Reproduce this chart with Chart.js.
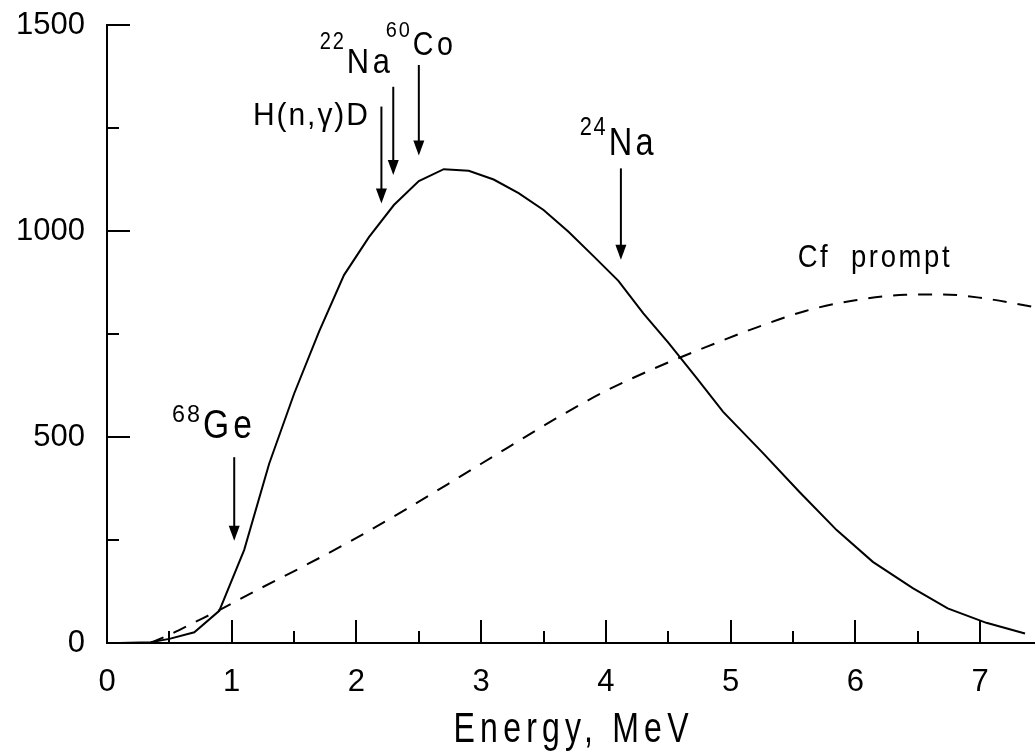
<!DOCTYPE html>
<html>
<head>
<meta charset="utf-8">
<title>Energy spectrum</title>
<script src="https://cdn.jsdelivr.net/npm/chart.js@4.4.1/dist/chart.umd.min.js"></script>
<style>
    body { margin: 0; background: #fff; }
    canvas { display: block; }
</style>
</head>
<body>
<canvas id="myChart" width="1035" height="753"></canvas>
<script>
// solid curve (measured spectrum)
const solidX = [0.1, 0.35, 0.5, 0.7, 0.9, 1.1, 1.3, 1.5, 1.7, 1.9, 2.1, 2.3, 2.5, 2.7, 2.9, 3.1, 3.3, 3.5, 3.7, 3.9, 4.1, 4.3, 4.5, 4.72, 4.94, 5.25, 5.55, 5.85, 6.14, 6.46, 6.74, 7.05, 7.36]
const solidY = [0, 2, 10, 26, 78, 226, 435, 605, 756, 893, 985, 1063, 1121, 1150, 1146, 1125, 1092, 1051, 998, 939, 879, 800, 729, 646, 561, 464, 367, 274, 197, 133, 84, 49, 23]

// dashed curve (Cf prompt)
const cfX = [0.35, 0.5, 0.7, 0.9, 1.2, 1.6, 2.0, 2.4, 2.8, 3.2, 3.6, 4.0, 4.4, 4.8, 5.2, 5.6, 6.0, 6.4, 6.7, 7.0, 7.44]
const cfY = [0, 20, 50, 80, 128, 190, 255, 325, 398, 472, 545, 612, 668, 718, 765, 806, 832, 845, 846, 838, 815]

// tick labels
const xTickLabels = [0, 1, 2, 3, 4, 5, 6, 7]
const yTickLabels = [0, 500, 1000, 1500]

// arrows: energy and the y range (from -> tip)
const arrowX    = [1.02, 2.20, 2.295, 2.50, 4.12]
const arrowFrom = [451, 1302, 1350, 1403, 1152]
const arrowTo   = [248, 1067, 1136, 1183, 930]

// labels: superscript, main text, anchor (left, baseline) in data units
const labelSup  = ['68', '', '22', '60', '24', '']
const labelMain = ['Ge', 'H(n,\u03b3)D', 'Na', 'Co', 'Na', 'Cf  prompt']
const labelX    = [0.769, 1.17, 1.923, 2.452, 4.022, 5.537]
const labelY    = [497.6, 1257, 1384, 1427, 1184, 913]

const FONT = '"Liberation Sans", Arial, sans-serif'

// text styles for the labels above
const labelStyle = [
    { size: 40, width: 49, sp: 5, supSize: 23, supW: 28, rise: 16 },
    { size: 31, width: 115, sp: 2 },
    { size: 35, width: 43, sp: 4, supSize: 24, supW: 24, rise: 24 },
    { size: 34, width: 40, sp: 4, supSize: 22, supW: 24, rise: 18 },
    { size: 38, width: 45, sp: 4, supSize: 25, supW: 26, rise: 20 },
    { size: 31, width: 152, sp: 3 }
]

// draw text squeezed/stretched to a given width
function fitText(ctx, str, x, y, size, width, spacing, align) {
    ctx.save()
    ctx.font = size + 'px ' + FONT
    ctx.letterSpacing = spacing + 'px'
    ctx.textBaseline = 'alphabetic'
    ctx.textAlign = 'left'
    let w = ctx.measureText(str).width - spacing
    let sx = width / w
    let left = align === 'right' ? x - width : (align === 'center' ? x - width / 2 : x)
    ctx.translate(left, y)
    ctx.scale(sx, 1)
    ctx.fillStyle = '#000'
    ctx.fillText(str, 0, 0)
    ctx.restore()
}

// ticks inside, arrows, labels, axis title
const decorPlugin = {
    id: 'decor',
    afterDraw(chart) {
        const ctx = chart.ctx
        const xs = chart.scales.x
        const ys = chart.scales.y
        const area = chart.chartArea

        ctx.save()
        ctx.strokeStyle = '#000'
        ctx.lineWidth = 2
        ctx.beginPath()
        for (let v = 0; v <= 1500; v += 250) {
            let len = v % 500 === 0 ? 23 : 12
            let py = Math.round(ys.getPixelForValue(v))
            ctx.moveTo(area.left, py)
            ctx.lineTo(area.left + len, py)
        }
        for (let v = 0; v <= xs.max; v += 0.5) {
            let len = v % 1 === 0 ? 23 : 12
            let px = Math.round(xs.getPixelForValue(v))
            ctx.moveTo(px, area.bottom)
            ctx.lineTo(px, area.bottom - len)
        }
        ctx.stroke()

        // arrows
        for (let i = 0; i < arrowX.length; i++) {
            let px = xs.getPixelForValue(arrowX[i])
            let y1 = ys.getPixelForValue(arrowFrom[i])
            let y2 = ys.getPixelForValue(arrowTo[i])
            ctx.beginPath()
            ctx.moveTo(px, y1)
            ctx.lineTo(px, y2 - 12)
            ctx.stroke()
            ctx.beginPath()
            ctx.moveTo(px - 5.5, y2 - 15)
            ctx.lineTo(px + 5.5, y2 - 15)
            ctx.lineTo(px, y2)
            ctx.closePath()
            ctx.fillStyle = '#000'
            ctx.fill()
        }
        ctx.restore()

        // labels
        for (let i = 0; i < labelMain.length; i++) {
            let st = labelStyle[i]
            let px = xs.getPixelForValue(labelX[i])
            let py = ys.getPixelForValue(labelY[i])
            fitText(ctx, labelMain[i], px, py, st.size, st.width, st.sp)
            if (labelSup[i]) {
                fitText(ctx, labelSup[i], px - 3, py - st.rise, st.supSize, st.supW, 2, 'right')
            }
        }

        // axis title
        fitText(ctx, 'Energy, MeV', xs.getPixelForValue(3.72), area.bottom + 99, 43, 235, 7, 'center')
    }
}

const data = {
    datasets: [{
        data: solidX.map((x, i) => ({ x: x, y: solidY[i] })),
        borderColor: '#000',
        borderWidth: 2,
        pointRadius: 0,
        fill: false,
        tension: 0
    }, {
        data: cfX.map((x, i) => ({ x: x, y: cfY[i] })),
        borderColor: '#000',
        borderWidth: 2,
        borderDash: [14, 11],
        pointRadius: 0,
        fill: false,
        cubicInterpolationMode: 'monotone'
    }]
}

const myChart = new Chart(document.getElementById('myChart'), {
    type: 'line',
    data: data,
    options: {
        responsive: false,
        devicePixelRatio: 1,
        animation: false,
        layout: { padding: { top: 25, right: 0, left: 0, bottom: 0 } },
        plugins: { legend: { display: false }, tooltip: { enabled: false } },
        scales: {
            x: {
                type: 'linear',
                min: 0,
                max: 7.44,
                grid: { display: false, drawTicks: false },
                border: { display: true, color: '#000', width: 2 },
                ticks: { color: '#000', padding: 21, maxRotation: 0, autoSkip: false, font: { family: FONT, size: 31 }, callback: v => String(v) },
                afterBuildTicks: s => { s.ticks = xTickLabels.map(v => ({ value: v })) },
                afterFit: s => { s.height = 110; s.paddingLeft = 0; s.paddingRight = 0 }
            },
            y: {
                type: 'linear',
                min: 0,
                max: 1500,
                grid: { display: false, drawTicks: false },
                border: { display: true, color: '#000', width: 2 },
                ticks: { color: '#000', padding: 22, font: { family: FONT, size: 31 }, callback: v => String(v) },
                afterBuildTicks: s => { s.ticks = yTickLabels.map(v => ({ value: v })) },
                afterFit: s => { s.width = 107; s.paddingTop = 0; s.paddingBottom = 0 }
            }
        }
    },
    plugins: [decorPlugin]
})
</script>
</body>
</html>
